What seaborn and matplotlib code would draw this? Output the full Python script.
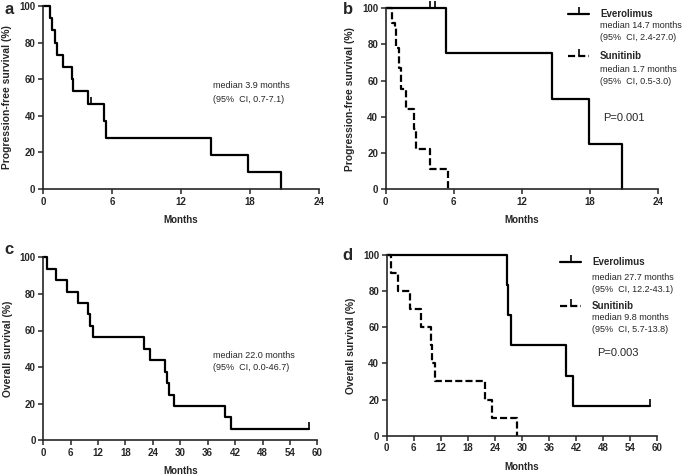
import matplotlib.pyplot as plt
import pandas as pd
import seaborn as sns
from matplotlib.lines import Line2D

# ---- data (months, survival %) ----
# a: progression-free survival, all patients
pfs_all_time = [0.58, 0.81, 1.02, 1.22, 1.74, 2.55, 2.61, 3.91, 5.28, 5.51, 14.6, 17.8, 20.7]
pfs_all_surv = [93.3, 86.7, 80.0, 73.3, 66.7, 60.0, 53.3, 46.7, 37.3, 28.0, 18.7, 9.3, 0.0]
pfs_all_cens_time = [4.2]
pfs_all_cens_surv = [46.7]

# b: progression-free survival by arm
pfs_evr_time = [5.35, 14.6, 17.9, 20.8]
pfs_evr_surv = [75.0, 50.0, 25.0, 0.0]
pfs_evr_cens_time = [3.9, 4.3]
pfs_evr_cens_surv = [100.0, 100.0]
pfs_sun_time = [0.55, 0.78, 0.95, 1.17, 1.39, 1.8, 2.5, 2.7, 3.9, 5.5]
pfs_sun_surv = [91.7, 88.9, 77.8, 66.7, 55.6, 44.4, 33.3, 22.2, 11.1, 0.0]

# c: overall survival, all patients
os_all_time = [0.74, 2.7, 5.1, 7.5, 9.85, 10.2, 10.8, 22.0, 23.35, 26.6, 27.0, 27.6, 28.6, 39.7, 41.2]
os_all_surv = [93.75, 87.5, 81.25, 75.0, 68.75, 62.5, 56.25, 50.0, 43.75, 37.5, 31.25, 25.0, 18.75, 12.5, 6.25]
os_all_end = 58.2

# d: overall survival by arm
os_evr_time = [26.6, 27.0, 27.6, 39.8, 41.2]
os_evr_surv = [83.3, 66.7, 50.0, 33.3, 16.7]
os_evr_end = 58.4
os_sun_time = [0.9, 2.5, 5.2, 7.6, 9.9, 10.1, 10.7, 21.9, 23.4, 28.8]
os_sun_surv = [90.0, 80.0, 70.0, 60.0, 50.0, 40.0, 30.0, 20.0, 10.0, 0.0]

W, H = 685, 476
DASH = (0, (3.2, 1.4))

sns.set_style("ticks")
plt.rcParams["font.family"] = ["Liberation Sans", "DejaVu Sans"]
plt.rcParams["axes.linewidth"] = 1.2
plt.rcParams["xtick.major.width"] = 1.1
plt.rcParams["ytick.major.width"] = 1.1
plt.rcParams["xtick.major.size"] = 3.5
plt.rcParams["ytick.major.size"] = 3.5
plt.rcParams["xtick.major.pad"] = 2
plt.rcParams["ytick.major.pad"] = 2


def px(x, y):
    return x / W, 1 - y / H


def km_frame(times, surv, end_time=None):
    t = [0.0] + list(times)
    s = [100.0] + list(surv)
    if end_time is not None:
        t.append(end_time)
        s.append(s[-1])
    return pd.DataFrame({"months": t, "survival": s})


def draw_curve(ax, times, surv, ls="-", end_time=None):
    sns.lineplot(data=km_frame(times, surv, end_time), x="months", y="survival", ax=ax,
                 color="black", linewidth=1.6, linestyle=ls, drawstyle="steps-post",
                 estimator=None, sort=False, clip_on=False)


def draw_censor(ax, times, surv):
    ax.plot(times, surv, ls="none", marker=2, ms=5, mew=1.2, color="black", clip_on=False)


def style_axes(ax, xmax, ylabel):
    ax.set_xlim(0, xmax)
    ax.set_ylim(0, 100)
    ax.set_xticks(range(0, xmax + 1, 6))
    ax.set_yticks(range(0, 101, 20))
    sns.despine(ax=ax)
    ax.tick_params(labelsize=7)
    for lab in ax.get_xticklabels() + ax.get_yticklabels():
        lab.set_fontweight("bold")
    ax.set_xlabel("Months", fontsize=7, fontweight="bold", labelpad=6)
    ax.set_ylabel(ylabel, fontsize=7.4, fontweight="bold", labelpad=5)


fig = plt.figure(figsize=(W / 100, H / 100), dpi=100)

ax_a = fig.add_axes([43 / W, 1 - 189 / H, 276 / W, 183 / H])
ax_b = fig.add_axes([385.7 / W, 1 - 189 / H, 272.6 / W, 180.7 / H])
ax_c = fig.add_axes([43.3 / W, 1 - 440.3 / H, 274 / W, 183 / H])
ax_d = fig.add_axes([386.7 / W, 1 - 435.7 / H, 270.6 / W, 180.7 / H])

# a
draw_curve(ax_a, pfs_all_time, pfs_all_surv)
draw_censor(ax_a, pfs_all_cens_time, pfs_all_cens_surv)
style_axes(ax_a, 24, "Progression-free survival (%)")

# b
draw_curve(ax_b, pfs_evr_time, pfs_evr_surv)
draw_censor(ax_b, pfs_evr_cens_time, pfs_evr_cens_surv)
draw_curve(ax_b, pfs_sun_time, pfs_sun_surv, ls=DASH)
style_axes(ax_b, 24, "Progression-free survival (%)")

# c
draw_curve(ax_c, os_all_time, os_all_surv, end_time=os_all_end)
draw_censor(ax_c, [os_all_end], [os_all_surv[-1]])
style_axes(ax_c, 60, "Overall survival (%)")

# d
draw_curve(ax_d, os_evr_time, os_evr_surv, end_time=os_evr_end)
draw_censor(ax_d, [os_evr_end], [os_evr_surv[-1]])
draw_curve(ax_d, os_sun_time, os_sun_surv, ls=DASH)
style_axes(ax_d, 60, "Overall survival (%)")

# panel letters
for letter, (x, y) in zip("abcd", [(9, 9), (348, 10), (9, 250), (347, 256)]):
    fig.text(*px(x, y), letter, fontsize=12, fontweight="bold", ha="center", va="center")

# medians for single-arm panels
note_kw = dict(fontsize=6.5, ha="left", va="center")
fig.text(*px(213, 86), "median 3.9 months", **note_kw)
fig.text(*px(213, 99), "(95%  CI, 0.7-7.1)", **note_kw)
fig.text(*px(213, 356), "median 22.0 months", **note_kw)
fig.text(*px(213, 368), "(95%  CI, 0.0-46.7)", **note_kw)


def legend_entry(x0, x1, y, ls):
    xs = [px(x0, y)[0], px((x0 + x1) / 2, y)[0], px(x1, y)[0]]
    ys = [px(x0, y)[1]] * 3
    fig.add_artist(Line2D(xs, ys, color="black", lw=1.6, linestyle=ls,
                          marker=2, ms=5, mew=1.2, markevery=[1]))


def arm_block(x_line, x_text, ys, name, median, ci, ls):
    legend_entry(x_line[0], x_line[1], ys[0], ls)
    fig.text(*px(x_text, ys[0]), name, fontsize=7, fontweight="bold", ha="left", va="center")
    fig.text(*px(x_text, ys[1]), median, **note_kw)
    fig.text(*px(x_text, ys[2]), ci, **note_kw)


# b legend
arm_block((568, 589), 600, (14, 26, 38), "Everolimus", "median 14.7 months", "(95%  CI, 2.4-27.0)", "-")
arm_block((568, 589), 600, (56, 70, 82), "Sunitinib", "median 1.7 months", "(95%  CI, 0.5-3.0)", DASH)
fig.text(*px(603, 118), "P=0.001", fontsize=8, ha="left", va="center")

# d legend
arm_block((560, 581), 592, (262, 277, 289), "Everolimus", "median 27.7 months", "(95%  CI, 12.2-43.1)", "-")
arm_block((560, 581), 592, (306, 318, 330), "Sunitinib", "median 9.8 months", "(95%  CI, 5.7-13.8)", DASH)
fig.text(*px(597, 353), "P=0.003", fontsize=8, ha="left", va="center")

fig.savefig("out.png", dpi=100)
